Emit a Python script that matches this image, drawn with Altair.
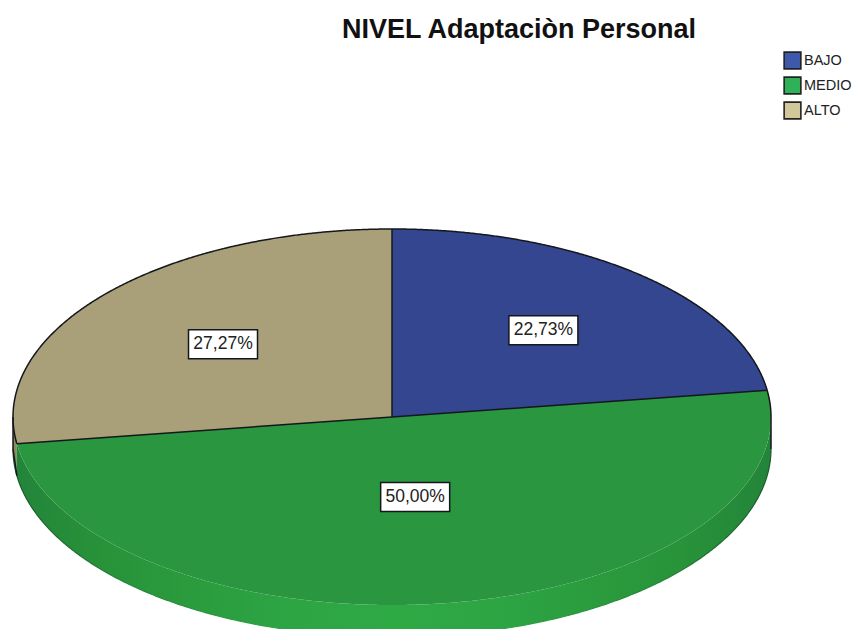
import math
import altair as alt
import pandas as pd

# ---- values ----
names = ["BAJO", "MEDIO", "ALTO"]
shares = [22.73, 50.00, 27.27]
labels = ["22,73%", "50,00%", "27,27%"]
label_radius = [0.61, 0.43, 0.59]
face_colors = ["#33468f", "#2a963f", "#a9a07a"]
legend_colors = ["#3e58ac", "#2fb257", "#d2c79a"]
title_text = "NIVEL Adaptaciòn Personal"

DEPTH = 0.17
W, H = 844, 581
PAD_TOP = 40

a1 = shares[0] / 100 * 2 * math.pi
a2 = (shares[0] + shares[1]) / 100 * 2 * math.pi
s1, c1, s2, c2 = math.sin(a1), math.cos(a1), math.sin(a2), math.cos(a2)

# x positions on the unit disc, dense near the edges, including the break points
grid = sorted({math.sin(math.radians(d * 0.5 - 90)) for d in range(361)} | {s1, s2, 0.0})


def top(x):
    return math.sqrt(max(0.0, 1 - x * x))


faces = []
for x in grid:
    if 0 <= x <= s1:
        faces.append(dict(name="BAJO", x=x, y=top(x), y2=x * c1 / s1))
    if s2 <= x <= 1:
        up = x * c2 / s2 if x <= 0 else (x * c1 / s1 if x <= s1 else top(x))
        faces.append(dict(name="MEDIO", x=x, y=up, y2=-top(x)))
    if -1 <= x <= 0:
        low = -top(x) if x < s2 else x * c2 / s2
        faces.append(dict(name="ALTO", x=x, y=top(x), y2=low))
faces = pd.DataFrame(faces)

rim_green = pd.DataFrame(
    [dict(x=x, y=-top(x), y2=-top(x) - DEPTH) for x in grid if x >= s2]
)
rim_tan = pd.DataFrame(
    [dict(x=x, y=-top(x), y2=-top(x) - DEPTH) for x in grid if x <= s2]
)

# outline segments: seg, i, x, y
out = []


def seg(sid, pts):
    for i, (x, y) in enumerate(pts):
        out.append(dict(seg=sid, i=i, x=x, y=y))


N = 720
seg(
    "arc",
    [
        (math.sin(a2 + (2 * math.pi + a1 - a2) * k / N), math.cos(a2 + (2 * math.pi + a1 - a2) * k / N))
        for k in range(N + 1)
    ],
)
seg("r0", [(0, 0), (0, 1)])
seg("r1", [(0, 0), (s1, c1)])
seg("r2", [(0, 0), (s2, c2)])
seg(
    "right",
    [(math.sin(a1 + (math.pi / 2 - a1) * k / 20), math.cos(a1 + (math.pi / 2 - a1) * k / 20)) for k in range(21)]
    + [(1, -DEPTH)],
)
seg("left", [(-1, 0), (-1, -DEPTH), (s2, c2 - DEPTH)])
outline = pd.DataFrame(out)
rim_edge = pd.DataFrame(
    [dict(i=i, x=x, y=-top(x) - DEPTH) for i, x in enumerate(grid)]
)

# label anchor points from mid-slice angles
starts = [0, shares[0], shares[0] + shares[1]]
label_rows = []
for n, s, st, lab, r in zip(names, shares, starts, labels, label_radius):
    m = (st + s / 2) / 100 * 2 * math.pi
    label_rows.append(dict(name=n, label=lab, x=r * math.sin(m), y=r * math.cos(m)))
label_df = pd.DataFrame(label_rows)

xs = alt.Scale(domain=[-1, 1], range=[5, 763])
ys = alt.Scale(domain=[-1, 1], range=[557, 181])
X = alt.X("x:Q", scale=xs, axis=None)
Y = alt.Y("y:Q", scale=ys, axis=None)
Y2 = alt.Y2("y2:Q")

rim_grad = alt.Gradient(
    gradient="linear", x1=0, x2=1, y1=0, y2=0,
    stops=[
        alt.GradientStop(color="#23843a", offset=0),
        alt.GradientStop(color="#289339", offset=0.12),
        alt.GradientStop(color="#2da443", offset=0.35),
        alt.GradientStop(color="#2eaa45", offset=0.5),
        alt.GradientStop(color="#2da443", offset=0.65),
        alt.GradientStop(color="#289339", offset=0.88),
        alt.GradientStop(color="#23843a", offset=1),
    ],
)
edge_grad = alt.Gradient(
    gradient="linear", x1=0, x2=1, y1=0, y2=0,
    stops=[
        alt.GradientStop(color="#1a5a2a", offset=0),
        alt.GradientStop(color="#23843a", offset=0.15),
        alt.GradientStop(color="#2eaa45", offset=0.4),
        alt.GradientStop(color="#2eaa45", offset=0.6),
        alt.GradientStop(color="#23843a", offset=0.85),
        alt.GradientStop(color="#1a5a2a", offset=1),
    ],
)

rim_a = alt.Chart(rim_green).mark_area(fill=rim_grad).encode(x=X, y=Y, y2=Y2)
rim_b = alt.Chart(rim_tan).mark_area(color="#8f875f").encode(x=X, y=Y, y2=Y2)
face = alt.Chart(faces).mark_area().encode(
    x=X, y=Y, y2=Y2,
    fill=alt.Fill("name:N", scale=alt.Scale(domain=names, range=face_colors), legend=None),
)
edge = alt.Chart(rim_edge).mark_line(stroke=edge_grad, strokeWidth=1.2).encode(
    x=X, y=Y, order=alt.Order("i:Q")
)
lines = alt.Chart(outline).mark_line(stroke="#14171c", strokeWidth=1.5).encode(
    x=X, y=Y, detail="seg:N", order=alt.Order("i:Q")
)
box = alt.Chart(label_df).mark_rect(
    width=69, height=29, fill="white", stroke="#14171c", strokeWidth=1.5
).encode(x=X, y=Y)
text = alt.Chart(label_df).mark_text(
    font="Liberation Sans", fontSize=17.5, color="#222222", baseline="middle", align="center"
).encode(x=X, y=Y, text="label:N")
legend_df = pd.DataFrame({"name": names, "x": [0, 0, 0], "y": [0, 0, 0]})
legend_mark = alt.Chart(legend_df).mark_square(size=0, opacity=1).encode(
    x=X, y=Y,
    color=alt.Color(
        "name:N",
        scale=alt.Scale(domain=names, range=legend_colors),
        sort=names,
        legend=alt.Legend(
            title=None, orient="none", legendX=775, legendY=3,
            symbolType="square", symbolSize=280, symbolStrokeColor="#222222",
            symbolStrokeWidth=1.6, symbolOpacity=1,
            labelFont="Liberation Sans", labelFontSize=14.5, labelColor="#222222",
            labelOffset=2, rowPadding=0, padding=0,
        ),
    ),
)

chart = (
    alt.layer(rim_b, rim_a, edge, face, lines, box, text, legend_mark)
    .resolve_scale(color="independent", fill="independent")
    .properties(
        width=W, height=H,
        padding={"left": 0, "top": PAD_TOP, "right": 0, "bottom": 0},
        autosize=alt.AutoSizeParams(type="none"),
        title=alt.TitleParams(
            title_text, anchor="start", dx=334, offset=4,
            font="Liberation Sans", fontSize=27, fontWeight="bold", color="#111111",
        ),
    )
    .configure_view(stroke=None)
)
chart.save("out.html", embed_options={"renderer": "svg", "actions": False})
